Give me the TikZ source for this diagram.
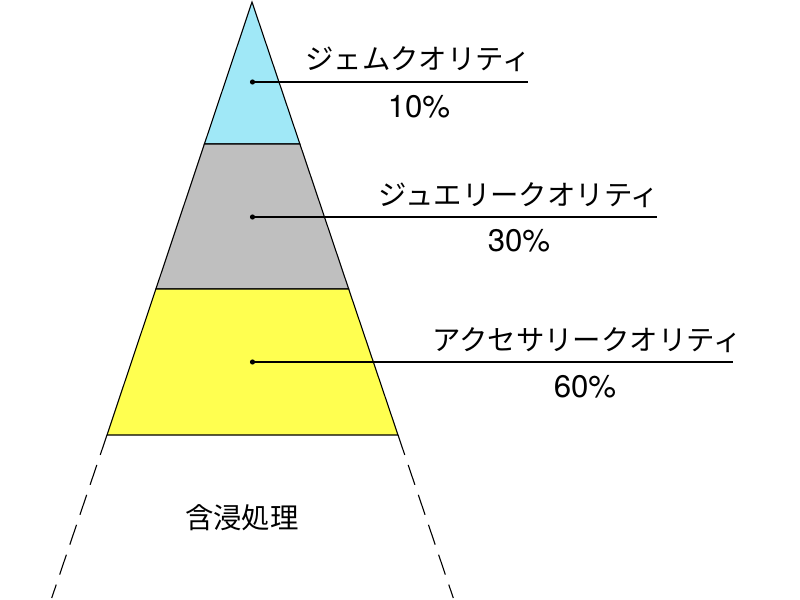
\documentclass[tikz,border=0pt]{standalone}
\usepackage{fontspec}
\setmainfont{Noto Sans CJK JP}
\newfontfamily\numfont{TeX Gyre Heros}
\usepackage{tikz}
\usetikzlibrary{calc}

\definecolor{gemcyan}{RGB}{160,232,247}
\definecolor{jewelgray}{RGB}{191,191,191}
\definecolor{accyellow}{RGB}{255,255,80}

\begin{document}
\begin{tikzpicture}[x=0.5pt,y=-0.5pt,
    layer/.style={draw=black,line width=0.55pt},
    leader/.style={draw=black,line width=0.8pt},
    tag/.style={inner sep=0pt,font=\fontsize{14.2}{17}\selectfont},
    pct/.style={inner sep=0pt,font=\numfont\fontsize{15.6}{18}\selectfont}]
        % Page frame
        \useasboundingbox (0,0) rectangle (800,600);

        % Corners of the pyramid
        \coordinate (top) at (252,2);
        \coordinate (gl) at (204.4,144);
        \coordinate (gr) at (299.9,144);
        \coordinate (jl) at (155.9,289);
        \coordinate (jr) at (348.7,289);
        \coordinate (al) at (107,435);
        \coordinate (ar) at (398,435);
        \coordinate (bl) at (51.7,598);
        \coordinate (br) at (453.3,598);

        % Fill the layers
        \filldraw[layer,fill=gemcyan] (top) -- (gr) -- (gl) -- cycle;
        \filldraw[layer,fill=jewelgray] (gl) -- (gr) -- (jr) -- (jl) -- cycle;
        \filldraw[layer,fill=accyellow] (jl) -- (jr) -- (ar) -- (al) -- cycle;

        % Base continues below
        \draw[layer,dash pattern=on 10.5pt off 5.3pt] (al) -- (bl);
        \draw[layer,dash pattern=on 10.5pt off 5.3pt] (ar) -- (br);
        \node[tag] (base) at (242,518) {含浸処理};

        % Dots and leader lines
        \coordinate (gemdot) at (252.5,82);
        \coordinate (gemend) at (528,82);
        \coordinate (jeweldot) at (252.5,217);
        \coordinate (jewelend) at (657,217);
        \coordinate (accdot) at (252.5,362);
        \coordinate (accend) at (733,362);

        \draw[leader] (gemdot) -- (gemend);
        \draw[leader] (jeweldot) -- (jewelend);
        \draw[leader] (accdot) -- (accend);
        \fill (gemdot) circle (1.3pt);
        \fill (jeweldot) circle (1.3pt);
        \fill (accdot) circle (1.3pt);

        % Label the layers
        \node[tag] (gemtag) at (418,59) {ジェムクオリティ};
        \node[pct] (gempct) at (419,107) {10\%};
        \node[tag] (jeweltag) at (519,195) {ジュエリークオリティ};
        \node[pct] (jewelpct) at (519,241) {30\%};
        \node[tag] (acctag) at (587,340) {アクセサリークオリティ};
        \node[pct] (accpct) at (585,387) {60\%};

    \end{tikzpicture}
\end{document}
